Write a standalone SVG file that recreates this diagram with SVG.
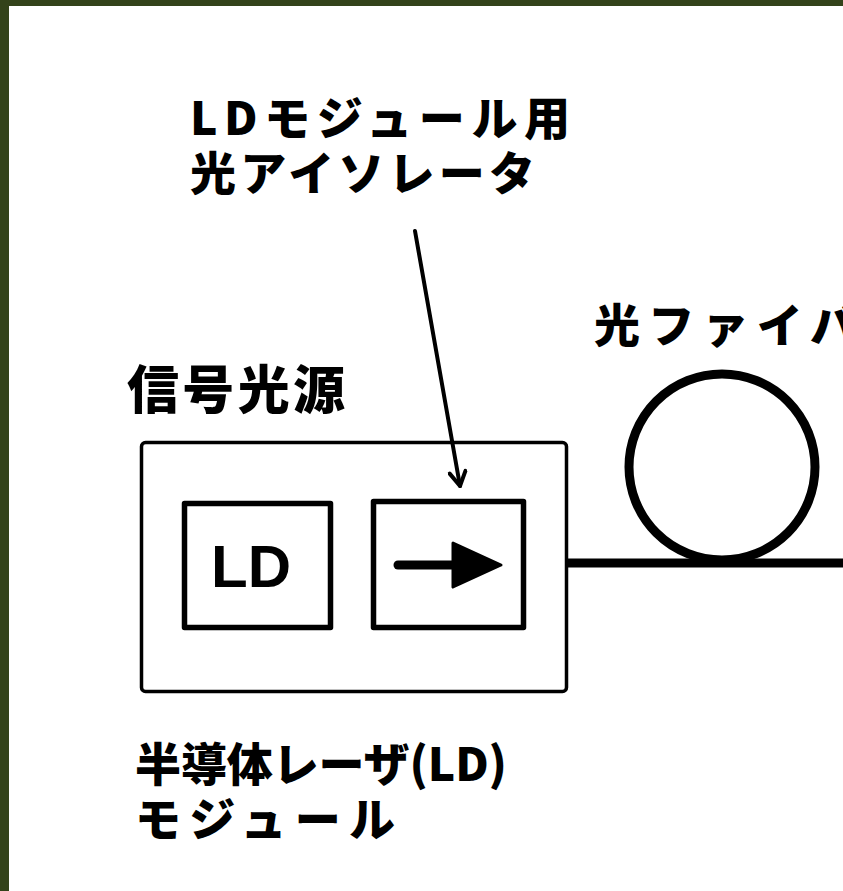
<svg xmlns="http://www.w3.org/2000/svg" width="843" height="891" viewBox="0 0 843 891">
<style>
.t{font-family:"Noto Sans CJK JP","Noto Sans",sans-serif;font-weight:900;fill:#000;}
.ln{stroke:#000;fill:none;stroke-linecap:round;stroke-linejoin:round;}
</style>
<defs>
<marker id="open" viewBox="0 0 20 20" refX="17" refY="10" markerWidth="20" markerHeight="20" markerUnits="userSpaceOnUse" orient="auto">
<path d="M3,2 L17,10 L3,18" fill="none" stroke="#000" stroke-width="4" stroke-linecap="round" stroke-linejoin="round"/>
</marker>
</defs>
<rect x="0" y="0" width="843" height="891" fill="#fff"/>
<rect x="0" y="0" width="843" height="6" fill="#33431a"/>
<rect x="0" y="0" width="9" height="891" fill="#33431a"/>

<g id="label-isolator">
<text class="t" x="190" y="135" font-size="46" textLength="380" lengthAdjust="spacing">LDモジュール用</text>
<text class="t" x="190" y="190" font-size="46" textLength="345" lengthAdjust="spacing">光アイソレータ</text>
</g>
<g id="label-source"><text class="t" x="127" y="409" font-size="52" textLength="218" lengthAdjust="spacing">信号光源</text></g>
<g id="label-fiber"><text class="t" x="594" y="342" font-size="46" textLength="262" lengthAdjust="spacing">光ファイバ</text></g>
<g id="label-module">
<text class="t" x="135" y="781" font-size="46" textLength="372" lengthAdjust="spacing">半導体レーザ(LD)</text>
<text class="t" x="135" y="836" font-size="46" textLength="260" lengthAdjust="spacing">モジュール</text>
</g>

<g id="module"><rect x="141.5" y="442.5" width="425" height="249" rx="4" class="ln" stroke-width="3.5"/></g>
<g id="ld">
<rect x="184.5" y="503.5" width="146" height="124" class="ln" stroke-width="5.5"/>
<text x="211" y="587" font-family="'Liberation Sans',Arial,sans-serif" font-size="60" font-weight="700" fill="#000">LD</text>
</g>
<g id="isolator">
<rect x="373.5" y="501.5" width="150" height="126" class="ln" stroke-width="5.5"/>
<line x1="398" y1="565" x2="460" y2="565" class="ln" stroke-width="9"/>
<path d="M453,543 L501,565 L453,587 Z" fill="#000" stroke="#000" stroke-width="3" stroke-linejoin="round"/>
</g>
<g id="fiber"><circle cx="722" cy="467" r="93" class="ln" stroke-width="9"/></g>

<g id="connectors">
<line x1="567" y1="563" x2="843" y2="563" stroke="#000" stroke-width="9"/>
<line x1="415" y1="231" x2="460" y2="486" class="ln" stroke-width="4" marker-end="url(#open)"/>
</g>
</svg>
